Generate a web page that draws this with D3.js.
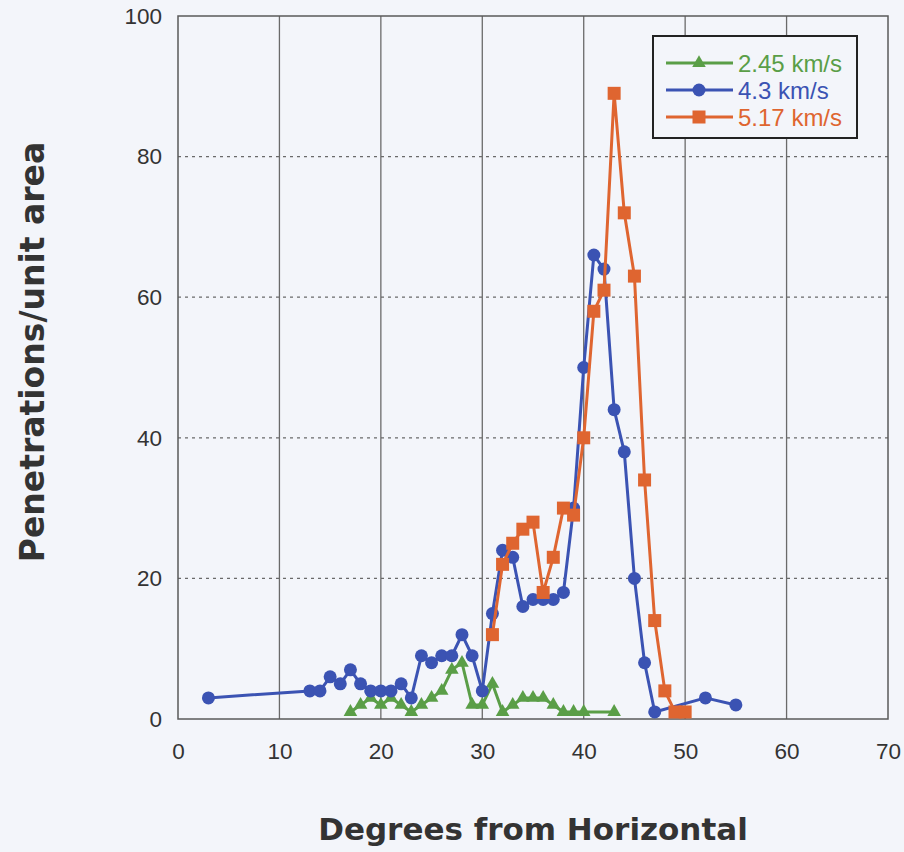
<!DOCTYPE html>
<html><head><meta charset="utf-8">
<script src="https://cdn.jsdelivr.net/npm/d3@7/dist/d3.min.js"></script>
<style>body{margin:0;background:#f3f5fa;}svg{display:block;}</style>
</head><body>
<script>
const xTicks = [0,10,20,30,40,50,60,70];
const yTicks = [0,20,40,60,80,100];
const seriesNames = ["2.45 km/s","4.3 km/s","5.17 km/s"];
const greenX = [17,18,19,20,21,22,23,24,25,26,27,28,29,30,31,32,33,34,35,36,37,38,39,40,43];
const greenY = [1,2,3,2,3,2,1,2,3,4,7,8,2,2,5,1,2,3,3,3,2,1,1,1,1];
const blueX = [3,13,14,15,16,17,18,19,20,21,22,23,24,25,26,27,28,29,30,31,32,33,34,35,36,37,38,39,40,41,42,43,44,45,46,47,52,55];
const blueY = [3,4,4,6,5,7,5,4,4,4,5,3,9,8,9,9,12,9,4,15,24,23,16,17,17,17,18,30,50,66,64,44,38,20,8,1,3,2];
const orangeX = [31,32,33,34,35,36,37,38,39,40,41,42,43,44,45,46,47,48,49,50];
const orangeY = [12,22,25,27,28,18,23,30,29,40,58,61,89,72,63,34,14,4,1,1];

const W=904,H=852;
const m={l:178,r:888,t:16,b:719};
const svg=d3.select("body").append("svg").attr("width",W).attr("height",H);
svg.append("rect").attr("width",W).attr("height",H).attr("fill","#f3f5fa");
const x=d3.scaleLinear().domain([0,70]).range([m.l,m.r]);
const y=d3.scaleLinear().domain([0,100]).range([m.b,m.t]);

// grid
svg.append("g").selectAll("line").data(xTicks.slice(1,-1)).join("line")
 .attr("x1",d=>x(d)).attr("x2",d=>x(d)).attr("y1",m.t).attr("y2",m.b)
 .attr("stroke","#6a6a6a").attr("stroke-width",1.3);
svg.append("g").selectAll("line").data(yTicks.slice(1,-1)).join("line")
 .attr("x1",m.l).attr("x2",m.r).attr("y1",d=>y(d)).attr("y2",d=>y(d))
 .attr("stroke","#6a6a6a").attr("stroke-width",1.3).attr("stroke-dasharray","3,4");
svg.append("rect").attr("x",m.l).attr("y",m.t).attr("width",m.r-m.l).attr("height",m.b-m.t)
 .attr("fill","none").attr("stroke","#5a5a5a").attr("stroke-width",1.5);

// axes
const xa=svg.append("g").attr("transform",`translate(0,${m.b})`).call(d3.axisBottom(x).tickValues(xTicks).tickSize(0).tickPadding(24));
const ya=svg.append("g").attr("transform",`translate(${m.l},0)`).call(d3.axisLeft(y).tickValues(yTicks).tickSize(0).tickPadding(16));
[xa,ya].forEach(a=>{a.select(".domain").remove();a.selectAll("text").attr("font-family","Liberation Sans, Arial, sans-serif").attr("font-size",22.5).attr("fill","#333");});

// titles
svg.append("text").attr("x",533).attr("y",840).attr("text-anchor","middle")
 .attr("font-family","DejaVu Sans, Verdana, sans-serif").attr("font-weight","bold").attr("font-size",31).attr("fill","#333")
 .text("Degrees from Horizontal");
svg.append("text").attr("transform","translate(44,352) rotate(-90)").attr("text-anchor","middle")
 .attr("font-family","DejaVu Sans, Verdana, sans-serif").attr("font-weight","bold").attr("font-size",33).attr("fill","#333")
 .text("Penetrations/unit area");

const cols=["#5a9e47","#3b53b3","#df6530"];
const series=[
 {xs:greenX,ys:greenY,c:cols[0],shape:"tri"},
 {xs:blueX,ys:blueY,c:cols[1],shape:"circ"},
 {xs:orangeX,ys:orangeY,c:cols[2],shape:"sq"}];
const line=d3.line().x(d=>x(d[0])).y(d=>y(d[1]));
function marker(g,shape,c){
 if(shape==="tri") return g.append("path").attr("d",d3.symbol(d3.symbolTriangle,80)()).attr("fill",c);
 if(shape==="circ") return g.append("circle").attr("r",6.5).attr("fill",c);
 return g.append("rect").attr("x",-6.5).attr("y",-6.5).attr("width",13).attr("height",13).attr("fill",c);
}
series.forEach(s=>{
 const pts=s.xs.map((v,i)=>[v,s.ys[i]]);
 svg.append("path").datum(pts).attr("d",line).attr("fill","none").attr("stroke",s.c).attr("stroke-width",3).attr("stroke-linejoin","round");
 const g=svg.append("g");
 pts.forEach(p=>{const mg=g.append("g").attr("transform",`translate(${x(p[0])},${y(p[1])})`);marker(mg,s.shape,s.c);});
});

// legend
const lg=svg.append("g");
lg.append("rect").attr("x",653).attr("y",36).attr("width",204).attr("height",102).attr("fill","#f3f5fa").attr("stroke","#222").attr("stroke-width",2);
series.forEach((s,i)=>{
 const yy=63+i*27;
 lg.append("line").attr("x1",666).attr("x2",733).attr("y1",yy).attr("y2",yy).attr("stroke",s.c).attr("stroke-width",3);
 const mg=lg.append("g").attr("transform",`translate(699,${yy})`);marker(mg,s.shape,s.c);
 lg.append("text").attr("x",738).attr("y",yy).attr("dy","0.36em").attr("font-family","Liberation Sans, Arial, sans-serif").attr("font-size",24).attr("fill",s.c).text(seriesNames[i]);
});
</script>
</body></html>
